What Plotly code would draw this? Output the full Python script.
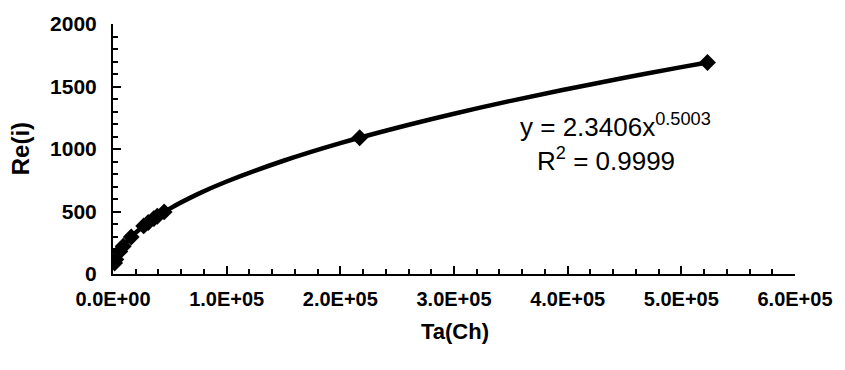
import plotly.graph_objects as go

# Measured data points (Ta(Ch), Re(i))
ta_points = [1400, 2500, 6000, 9000, 16000, 27000, 31000, 36000, 39000, 45000, 217000, 523000]
re_points = [88, 117, 181, 222, 296, 385, 412, 444, 462, 497, 1090, 1692]

# Power trendline
ta_trend = [1400, 10000, 25000, 50000, 75000, 100000, 150000, 200000, 250000,
            300000, 350000, 400000, 450000, 500000, 523000]
re_trend = [88, 234, 370, 523, 641, 740, 906, 1047, 1170,
            1282, 1385, 1480, 1570, 1655, 1692]

x_tickvals = [0, 100000, 200000, 300000, 400000, 500000, 600000]
x_ticktext = ["0.0E+00", "1.0E+05", "2.0E+05", "3.0E+05", "4.0E+05", "5.0E+05", "6.0E+05"]
y_tickvals = [0, 500, 1000, 1500, 2000]

FONT = "Liberation Sans, Arial, sans-serif"

fig = go.Figure()
fig.add_trace(go.Scatter(
    x=ta_trend, y=re_trend, mode="lines",
    line=dict(color="black", width=4.5, shape="spline"),
    showlegend=False, hoverinfo="skip"))
fig.add_trace(go.Scatter(
    x=ta_points, y=re_points, mode="markers",
    marker=dict(symbol="diamond", size=13, color="black"),
    showlegend=False))

fig.update_layout(
    width=845, height=370,
    margin=dict(l=113, r=50, t=22, b=96),
    paper_bgcolor="white", plot_bgcolor="white",
    font=dict(family=FONT, color="black"),
    xaxis=dict(
        range=[0, 600000], tickmode="array", tickvals=x_tickvals, ticktext=x_ticktext,
        showgrid=False, zeroline=False, showline=True, linecolor="black", linewidth=2,
        ticks="inside", ticklen=8, tickwidth=1.8, tickcolor="black",
        minor=dict(dtick=20000, ticks="inside", ticklen=5, tickwidth=1.5, tickcolor="black", showgrid=False),
        tickfont=dict(family=FONT, size=20, color="black", weight="bold"),
        ticklabelstandoff=6,
    ),
    yaxis=dict(
        range=[0, 2000], tickmode="array", tickvals=y_tickvals,
        showgrid=False, zeroline=False, showline=True, linecolor="black", linewidth=2,
        ticks="inside", ticklen=8, tickwidth=1.8, tickcolor="black",
        minor=dict(dtick=100, ticks="inside", ticklen=5, tickwidth=1.5, tickcolor="black", showgrid=False),
        tickfont=dict(family=FONT, size=21, color="black", weight="bold"),
        ticklabelstandoff=10,
    ),
    annotations=[
        dict(text="<b>Re(i)</b>", xref="paper", yref="paper", x=-0.136, y=0.50,
             xanchor="center", yanchor="middle", textangle=-90, showarrow=False,
             font=dict(family=FONT, size=24, color="black")),
        dict(text="<b>Ta(Ch)</b>", xref="paper", yref="paper", x=0.502, y=-0.23,
             xanchor="center", yanchor="middle", showarrow=False,
             font=dict(family=FONT, size=22, color="black")),
        dict(text="y = 2.3406x<sup>0.5003</sup>", x=442500, y=1185,
             xanchor="center", yanchor="middle", showarrow=False,
             font=dict(family=FONT, size=26, color="black")),
        dict(text="R<sup>2</sup> = 0.9999", x=433700, y=913,
             xanchor="center", yanchor="middle", showarrow=False,
             font=dict(family=FONT, size=26, color="black")),
    ],
)

fig.write_html("out.html")
